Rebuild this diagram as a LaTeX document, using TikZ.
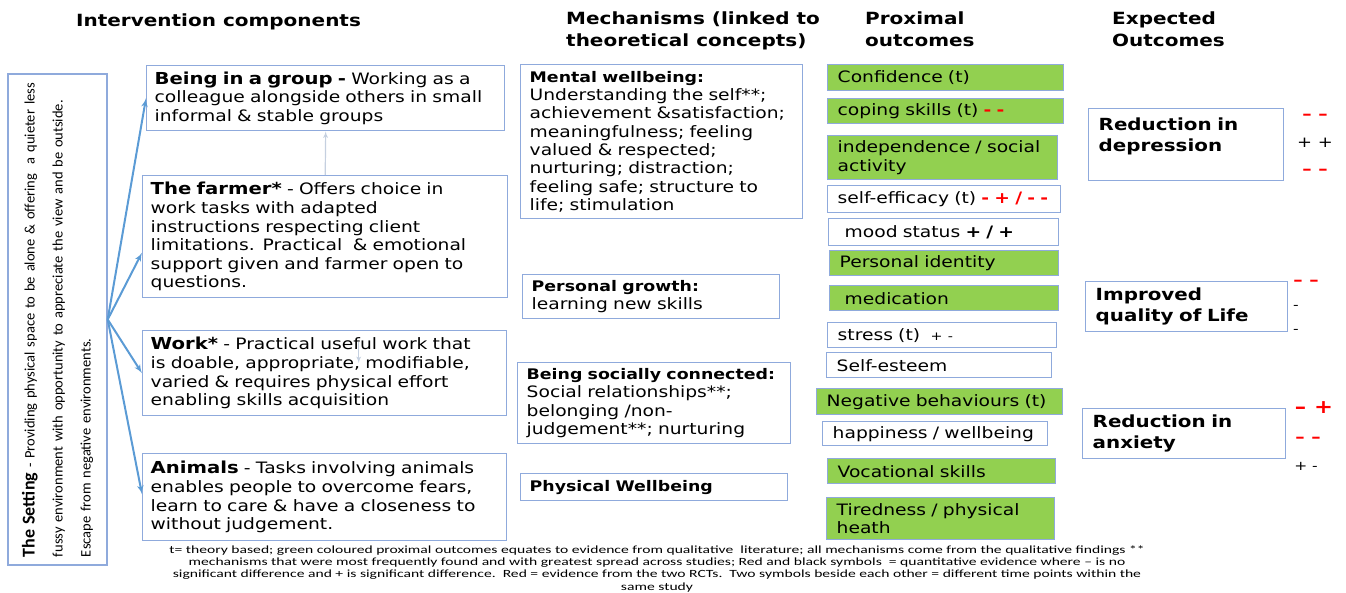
\documentclass[tikz,border=0pt]{standalone}
\usepackage{fontspec}
\setmainfont{DejaVu Sans}[FakeStretch=1.19]
\newfontfamily\notefont{Carlito}[FakeStretch=1.42]
\newfontfamily\settingfont{Carlito}
\usepackage{xcolor}
\usepackage{tikz}
\usetikzlibrary{positioning}
\usetikzlibrary{shapes,arrows,positioning,fit}
\definecolor{boxline}{HTML}{8FAADC}
\definecolor{arrowblue}{HTML}{5B9BD5}
\definecolor{outgreen}{HTML}{92D050}
\definecolor{evred}{HTML}{FF0000}
\definecolor{faintline}{HTML}{C5D0E0}
\tikzstyle{block} = [rectangle, draw=boxline, line width=1.4pt, fill=white,
anchor=north west, align=left, inner ysep=2pt, font=\fontsize{15.7}{18.6}\selectfont]
\tikzstyle{comp} = [block, inner xsep=8pt]
\tikzstyle{mech} = [block, inner xsep=9pt, font=\fontsize{15.7}{18.3}\selectfont]
\tikzstyle{prox} = [block, inner xsep=10pt, minimum height=25pt]
\tikzstyle{proxg} = [prox, fill=outgreen]
\tikzstyle{expect} = [block, inner xsep=10pt, font=\bfseries\fontsize{16.7}{21}\selectfont]
\tikzstyle{head} = [anchor=north west, align=left, inner sep=0pt, font=\bfseries\fontsize{16.8}{22}\selectfont]
\tikzstyle{sym} = [inner sep=0pt, text=evred, font=\bfseries\fontsize{15.7}{18}\selectfont]
\tikzstyle{symk} = [inner sep=0pt, font=\fontsize{13}{16}\selectfont]
\tikzstyle{line} = [draw=arrowblue, line width=2pt, -latex']
\tikzstyle{faint} = [draw=faintline, line width=1.2pt, -latex']
\newcommand{\compname}[1]{{\bfseries\fontsize{16.5}{18.6}\selectfont #1}}
\newcommand{\mechname}[1]{{\bfseries\fontsize{14.6}{18.3}\selectfont #1}}
\newcommand{\ev}[1]{{\color{evred}\bfseries #1}}

\begin{document}
\begin{tikzpicture}[x=1pt, y=-1pt]
    \useasboundingbox (0,0) rectangle (1346,593);
    % headers
   \node [head] (hcomp) at (76,14) {Intervention components};
   \node [head] (hmech) at (566,12) {Mechanisms (linked to\\theoretical concepts)};
   \node [head] (hprox) at (865,12) {Proximal\\outcomes};
   \node [head] (hexp) at (1112,12) {Expected\\Outcomes};
    % the setting
   \node [rectangle, draw=boxline, line width=1.4pt, rotate=90, minimum width=491pt,
   minimum height=99pt, text width=475pt, inner xsep=8pt, align=left,
   font=\settingfont\fontsize{14.5}{28}\selectfont] (setting) at (57.5,319.5)
   {{\bfseries\fontsize{18}{28}\selectfont The Setting} - Providing physical space to be alone \& offering\ \ a quieter less\\
   fussy environment with opportunity to appreciate the view and be outside.\\
   Escape from negative environments.};
    % intervention components
   \node [comp, text width=342pt, minimum height=65pt] (group) at (146,65)
   {\compname{Being in a group -} Working as a\\colleague alongside others in small\\informal \& stable groups};
   \node [comp, text width=349pt, minimum height=122pt] (farmer) at (142,175)
   {\compname{The farmer*} - Offers choice in\\work tasks with adapted\\instructions respecting client\\limitations. Practical\ \ \& emotional\\support given and farmer open to\\questions.};
   \node [comp, text width=348pt, minimum height=85pt] (work) at (142,330)
   {\compname{Work*} - Practical useful work that\\is doable, appropriate, modifiable,\\varied \& requires physical effort\\enabling skills acquisition};
   \node [comp, text width=348pt, minimum height=87pt] (animals) at (142,453)
   {\compname{Animals} - Tasks involving animals\\enables people to overcome fears,\\learn to care \& have a closeness to\\without judgement.};
    % mechanisms
   \node [mech, text width=264pt, minimum height=154pt] (mental) at (520,64)
   {\mechname{Mental wellbeing:}\\Understanding the self**;\\achievement \&satisfaction;\\meaningfulness; feeling\\valued \& respected;\\nurturing; distraction;\\feeling safe; structure to\\life; stimulation};
   \node [mech, text width=239pt, minimum height=44pt] (growth) at (522,274)
   {\mechname{Personal growth:}\\learning new skills};
   \node [mech, text width=255pt, minimum height=81pt] (social) at (517,362)
   {\mechname{Being socially connected:}\\Social relationships**;\\belonging /non-\\judgement**; nurturing};
   \node [mech, text width=249pt, minimum height=27pt] (physical) at (520,473)
   {\mechname{Physical Wellbeing}};
    % proximal outcomes
   \node [proxg, text width=216pt, minimum height=26pt] (conf) at (827,64) {Confidence (t)};
   \node [proxg, text width=216pt] (coping) at (827,98) {coping skills (t) \ev{- -}};
   \node [proxg, text width=210pt, minimum height=44pt] (indep) at (827,135) {independence / social\\activity};
   \node [prox, text width=213pt, minimum height=27pt] (selfeff) at (827,185) {\mbox{self-efficacy (t) \ev{- + / - -}}};
   \node [prox, text width=210pt, minimum height=27pt] (mood) at (828,218) {\hspace*{6pt}mood status \textbf{+ / +}};
   \node [proxg, text width=209pt] (ident) at (829,250) {Personal identity};
   \node [proxg, text width=209pt] (medic) at (829,285) {\hspace*{5pt}medication};
   \node [prox, text width=209pt] (stress) at (827,322) {stress (t)\ \ {\fontsize{12}{14}\selectfont+ -}};
   \node [prox, text width=205pt] (esteem) at (826,352) {Self-esteem};
   \node [proxg, text width=226pt, minimum height=26pt] (negbeh) at (816,388) {\mbox{Negative behaviours (t)}};
   \node [prox, text width=205pt, minimum height=24pt] (happy) at (822,421) {happiness / wellbeing};
   \node [proxg, text width=208pt] (vocat) at (827,458) {Vocational skills};
   \node [proxg, text width=208pt, minimum height=42pt] (tired) at (826,497) {Tiredness / physical\\heath};
    % expected outcomes
   \node [expect, text width=175pt, minimum height=72pt] (depress) at (1088,108) {Reduction in\\depression\\\mbox{}};
   \node [expect, text width=182pt, minimum height=50pt] (qol) at (1085,281) {Improved\\quality of Life};
   \node [expect, text width=183pt, minimum height=50pt] (anxiety) at (1082,408) {Reduction in\\anxiety};
    % evidence symbols
   \node [sym] (dep1) at (1315,117) {– –};
   \node [symk, font=\fontsize{15}{18}\selectfont] (dep2) at (1315,143) {+ +};
   \node [sym] (dep3) at (1315,172) {– –};
   \node [sym] (qol1) at (1306,283) {– –};
   \node [symk] (qol2) at (1296,307) {-};
   \node [symk] (qol3) at (1296,331) {-};
   \node [sym, font=\bfseries\fontsize{19}{20}\selectfont] (anx1) at (1314,408) {– +};
   \node [sym] (anx2) at (1308,440) {– –};
   \node [symk] (anx3) at (1306,466) {+ -};
    % footnote
   \node [anchor=north, align=center, inner sep=0pt, font=\notefont\fontsize{11}{12.4}\selectfont] (note) at (657,545)
   {t= theory based; green coloured proximal outcomes equates to evidence from qualitative\ \ literature; all mechanisms come from the qualitative findings **\\
   mechanisms that were most frequently found and with greatest spread across studies; Red and black symbols\ \ = quantitative evidence where – is no\\
   significant difference and + is significant difference.\ \ Red = evidence from the two RCTs.\ \ Two symbols beside each other = different time points within the\\
   same study};

    % edges
          \path [line] (setting.south) -- (group.west);
          \path [line] (setting.south) -- ([yshift=-16pt]farmer.west);
          \path [line] (setting.south) -- (work.west);
          \path [line] (setting.south) -- ([yshift=3pt]animals.west);
          \path [faint] (farmer.north) -- (group.south);
          \path [faint] ([xshift=34pt,yshift=-12pt]work.north) -- ([xshift=34pt,yshift=-33pt]work.north);

  \end{tikzpicture}
\end{document}
